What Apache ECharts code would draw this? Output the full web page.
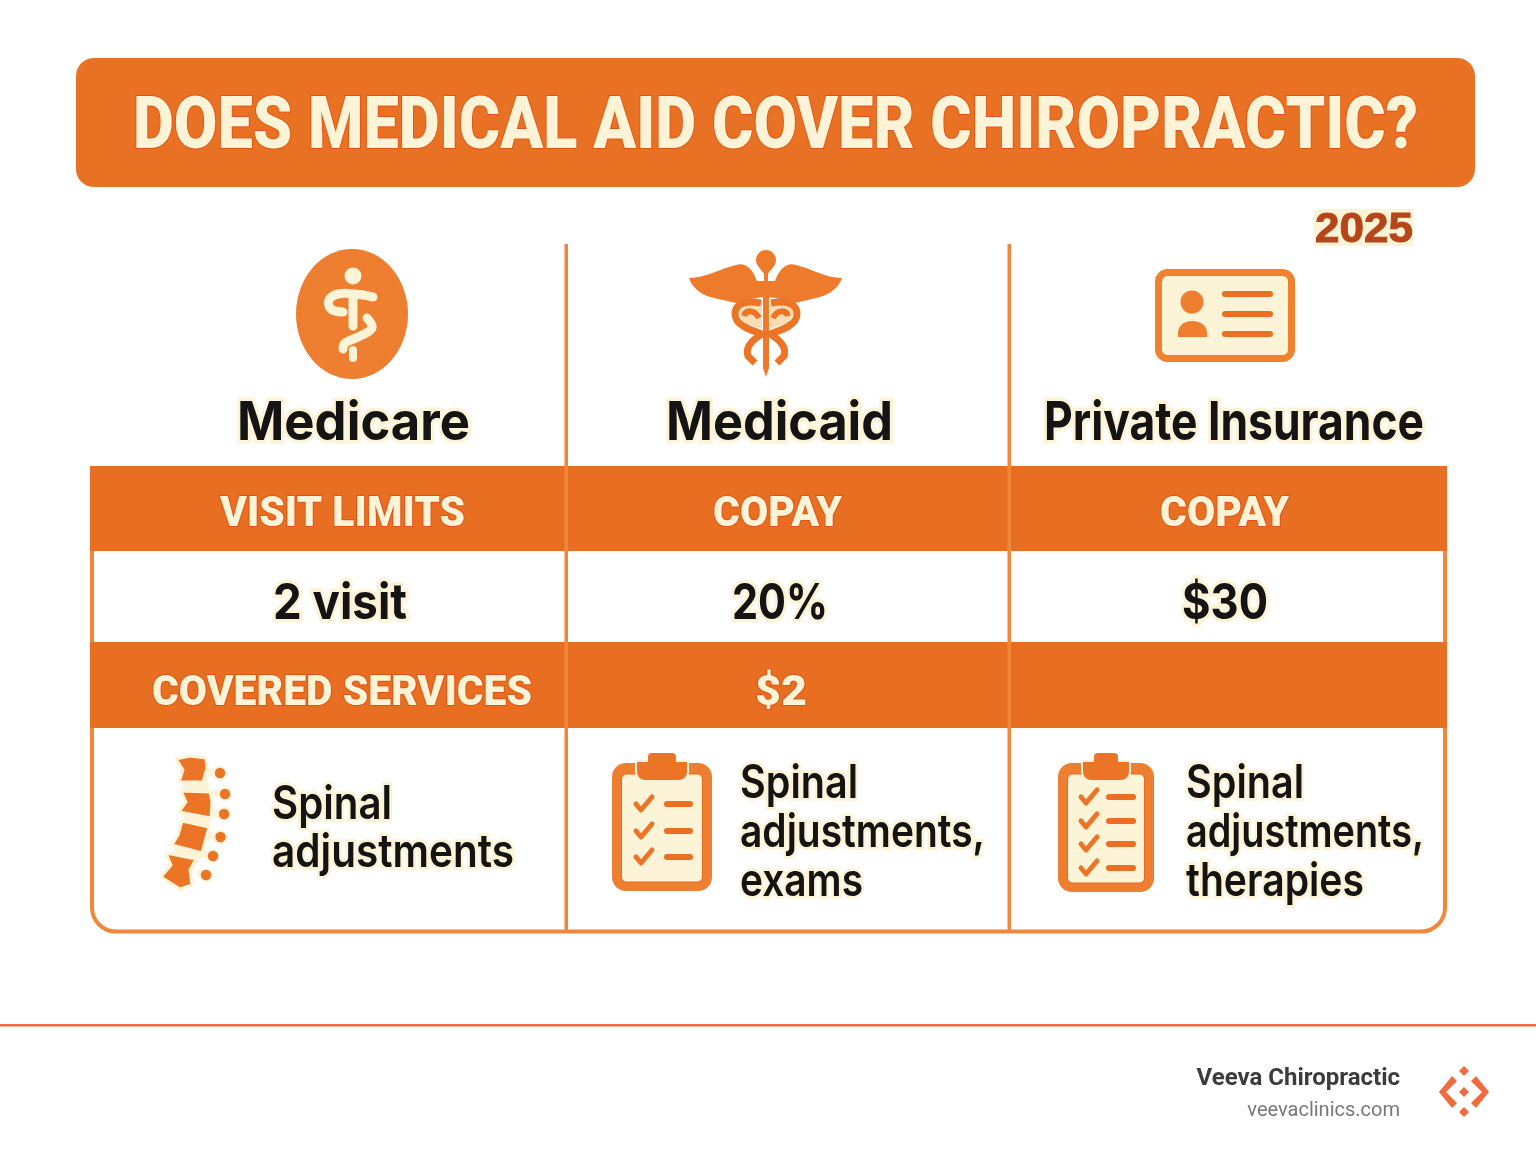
<!DOCTYPE html>
<html><head><meta charset="utf-8">
<style>html,body{margin:0;padding:0;background:#fff}#c{width:1536px;height:1154px}</style>
<script src="https://cdn.jsdelivr.net/npm/echarts@6/dist/echarts.min.js"></script>
</head><body><div id="c"></div>
<script>
// ---- content ----
const titleText = 'DOES MEDICAL AID COVER CHIROPRACTIC?';
const yearText = '2025';
const plans = ['Medicare', 'Medicaid', 'Private Insurance'];
const band1Labels = ['VISIT LIMITS', 'COPAY', 'COPAY'];
const rowValues = ['2 visit', '20%', '$30'];
const band2Labels = ['COVERED SERVICES', '$2'];
const services = [['Spinal', 'adjustments'], ['Spinal', 'adjustments,', 'exams'], ['Spinal', 'adjustments,', 'therapies']];
const brandName = 'Veeva Chiropractic';
const brandSite = 'veevaclinics.com';

// ---- layout ----
const CREAM = '#FDF3D7', ORANGE = '#E97123', LINE = '#F0873A', EDGE = '#DF5414', INK = '#141414';
const planBox = [[237, 233], [666, 227], [1044, 380]];
const band1Box = [[220, 245], [713, 129], [1160, 129]];
const rowBox = [[273, 134], [732, 96], [1182, 86]];
const band2Box = [[152, 380], [755, 52]];
const serviceX = [272, 740, 1186];
const serviceBase = [[819, 867], [798, 847, 896], [798, 847, 896]];
const serviceW = [[120, 242], [118, 245, 123], [118, 238, 178]];

const mctx = document.createElement('canvas').getContext('2d');
function T(text, x, base, width, size, weight, family, fill, halo, haloW) {
  const font = weight + ' ' + size + 'px ' + family;
  mctx.font = font;
  const sx = width ? width / mctx.measureText(text).width : 1;
  const k = family === 'Roboto' ? 0.265 : 0.3;
  return { type: 'text', x, y: base - size * k, scaleX: sx, z: 20, silent: true,
    style: { text, font, fill, textAlign: 'left', textVerticalAlign: 'middle',
      stroke: halo || 'transparent', lineWidth: halo ? haloW : 0 } };
}
let pathId = 0;
function P(d, style, z) {
  const name = 'svgShape' + (pathId++);
  echarts.graphic.registerShape(name, echarts.graphic.extendPath(d, {}));
  return { type: name, shape: {}, style, z: z || 10, silent: true };
}
function R(x, y, w, h, r, fill, stroke, lw, z) {
  return { type: 'rect', shape: { x, y, width: w, height: h, r }, style: { fill, stroke: stroke || null, lineWidth: lw || 0 }, z: z || 5, silent: true };
}
function C(cx, cy, r, fill, z) { return { type: 'circle', shape: { cx, cy, r }, style: { fill }, z: z || 12, silent: true }; }
function E(cx, cy, rx, ry, fill, z) { return { type: 'ellipse', shape: { cx, cy, rx, ry }, style: { fill }, z: z || 11, silent: true }; }
function S(d, stroke, lw, z) { return { type: 'polyline', shape: { points: d, smooth: 0.4 }, style: { stroke, lineWidth: lw, fill: null, lineCap: 'round', lineJoin: 'round' }, z: z || 12, silent: true }; }
function PG(points, fill, stroke, lw, z) { return { type: 'polygon', shape: { points }, style: { fill, stroke: stroke || null, lineWidth: lw || 0, lineJoin: 'round' }, z: z || 12, silent: true }; }

const g = [];
// title bar
g.push(R(76, 58, 1399, 129, 18, ORANGE));
g.push(T(titleText, 133, 149, 1285, 73, 900, 'Roboto', CREAM, EDGE, 2));
// year
g.push(R(1314, 209, 99, 37, 2, CREAM));
g.push(T(yearText, 1315, 243, 98, 43, 700, 'Liberation Sans', '#B5461A', '#B5461A', 1));

// table
g.push(R(92, 468, 1353, 463.5, [0, 0, 24, 24], '#fff', LINE, 4, 4));
g.push(R(90, 466, 1357, 85, 0, '#E86E22', null, 0, 6));
g.push(R(90, 642, 1357, 86, 0, '#E86E22', null, 0, 6));
g.push(R(564.5, 244, 3.5, 687, 0, LINE, null, 0, 7));
g.push(R(1007.5, 244, 3.5, 687, 0, LINE, null, 0, 7));

plans.forEach((p, i) => g.push(T(p, planBox[i][0], 440, planBox[i][1], 54, 700, 'Inter', INK, CREAM, 7)));
band1Labels.forEach((p, i) => g.push(T(p, band1Box[i][0], 527, band1Box[i][1], 42, 900, 'Roboto', CREAM, EDGE, 2)));
rowValues.forEach((p, i) => g.push(T(p, rowBox[i][0], 619, rowBox[i][1], 50, 700, 'Inter', INK, CREAM, 7)));
band2Labels.forEach((p, i) => g.push(T(p, band2Box[i][0], 706, band2Box[i][1], 42, 900, 'Roboto', CREAM, EDGE, 2)));
services.forEach((lines, i) => lines.forEach((l, j) =>
  g.push(T(l, serviceX[i], serviceBase[i][j], serviceW[i][j], 46, 600, 'Inter', INK, CREAM, 6))));

// Medicare icon
g.push(E(352, 314, 56, 65, '#EE7F30'));
g.push(C(353, 276, 8.5, CREAM));
g.push(S([[343, 312], [331, 309], [329, 300], [338, 294], [355, 294], [373, 297]], CREAM, 9));
g.push(S([[353, 296], [353, 326]], CREAM, 9));
g.push(S([[367, 318], [372, 328], [358, 337], [345, 343], [343, 349]], CREAM, 9));
g.push(S([[353, 350], [353, 358]], CREAM, 8));

// Caduceus icon
const W = '#EE7A2B';
g.push(P('M689 278 C705 278 722 268 736 265 C746 262 753 270 757 281 L775 281 C779 270 786 262 796 265 C810 268 826 278 842 278 C838 290 826 296 816 298 L795 303 C786 300 772 297 766 297 C760 297 746 300 736 303 L714 298 C704 296 693 290 689 278 Z', { fill: W }));
g.push(P('M766 250 C772 250 776 255 776 260 C776 266 770 270 768 274 L768 282 L764 282 L764 274 C762 270 756 266 756 260 C756 255 760 250 766 250 Z', { fill: W }));
g.push(P('M762 302 L762 329 L744 323 L737 312 L743 302 Z M770 302 L770 329 L788 323 L795 312 L789 302 Z', { fill: '#FBDDB5' }, 9));
g.push(P('M763 295 L769 295 L769 368 L766 377 L763 368 Z', { fill: W }));
g.push(P('M761 303 C745 300 735 304 735 314 C735 325 750 330 762 334 C752 340 745 347 748 356 L755 363', { stroke: '#EC7426', lineWidth: 7, fill: null }));
g.push(P('M771 303 C787 300 797 304 797 314 C797 325 782 330 770 334 C780 340 787 347 784 356 L777 363', { stroke: '#EC7426', lineWidth: 7, fill: null }));
g.push(P('M759 318 C755 310 746 309 744 316', { stroke: '#EC7426', lineWidth: 6, fill: null }));
g.push(P('M773 318 C777 310 786 309 788 316', { stroke: '#EC7426', lineWidth: 6, fill: null }));

// ID card icon
g.push(R(1158.5, 272.5, 133, 86, 9, CREAM, '#F0822F', 7, 10));
g.push(C(1192, 302, 11.5, '#EE7F30'));
g.push(P('M1178 337 L1178 333 C1178 325 1185 321 1192 321 C1200 321 1207 325 1207 333 L1207 337 Z', { fill: '#EE7F30' }, 12));
[294, 314, 334].forEach(y => g.push(R(1222, y - 3, 51, 6, 3, '#EC6E22', null, 0, 12)));

// clipboards
function clip(x0, w, y0, y1, rows, cx0, lx0, lx1) {
  g.push(R(x0, y0 + 10, w, y1 - y0 - 10, 14, '#EE7F30', null, 0, 10));
  g.push(R(x0 + 9.5, y0 + 21, w - 19, y1 - y0 - 30, 5, CREAM, '#E8691F', 1, 11));
  g.push(R(x0 + 24, y0 + 8, w - 48, 20, [0, 0, 9, 9], '#EC7426', CREAM, 2, 12));
  g.push(R(x0 + 36, y0, w - 72, 12, [4, 4, 0, 0], '#EC7426', null, 0, 12));
  rows.forEach(y => {
    g.push({ type: 'polyline', shape: { points: [[cx0, y], [cx0 + 5, y + 6], [cx0 + 16, y - 7]] }, style: { stroke: '#EC7426', lineWidth: 5, fill: null, lineCap: 'round', lineJoin: 'round' }, z: 13, silent: true });
    g.push(R(lx0, y - 3, lx1 - lx0, 6, 3, '#EC6E22', null, 0, 13));
  });
}
clip(612, 100, 753, 891, [804, 831, 857], 636, 664, 693);
clip(1058, 96, 753, 892, [797, 821, 844, 868], 1081, 1106, 1136);

// spine icon
g.push(S([[193, 770], [197, 800], [194, 835], [178, 872]], CREAM, 26, 9));
[[220, 773], [225, 794], [224, 814], [220.5, 837], [213, 856], [206, 875]].forEach(p => {
  g.push(S([[200, p[1] - 2], [p[0], p[1]]], CREAM, 7, 9));
  g.push(C(p[0], p[1], 7, CREAM, 10));
  g.push(C(p[0], p[1], 5.2, '#EC7426', 12));
});
const spineFill = '#EC7426';
[
  [[176, 759], [190, 756], [206, 758], [207, 768], [203, 782], [179, 782], [183, 770]],
  [[181, 791], [210, 792], [212, 802], [211, 818], [179, 812], [186, 802]],
  [[182, 821], [209, 827], [202, 853], [172, 845], [178, 835]],
  [[166, 853], [196, 859], [190, 870], [192, 885], [180, 889], [161, 877], [171, 865]]
].forEach(pts => g.push(PG(pts, spineFill, CREAM, 3, 12)));

// footer
g.push(R(0, 1024, 1536, 2.5, 0, '#F26B3F'));
g.push({ type: 'text', x: 1400, y: 1079, z: 20, silent: true, style: { text: brandName, font: '700 24px Roboto', fill: '#3C3C3C', textAlign: 'right', textVerticalAlign: 'middle' } });
g.push({ type: 'text', x: 1400, y: 1111, z: 20, silent: true, style: { text: brandSite, font: '400 20px Roboto', fill: '#787878', textAlign: 'right', textVerticalAlign: 'middle' } });
const LOGO = '#F26B3F';
g.push(PG([[1464, 1066], [1469, 1071], [1464, 1076], [1459, 1071]], LOGO));
g.push(PG([[1464, 1107], [1469, 1112], [1464, 1117], [1459, 1112]], LOGO));
g.push(PG([[1464, 1087], [1469, 1092], [1464, 1097], [1459, 1092]], LOGO));
g.push(PG([[1452, 1076], [1457, 1081], [1446, 1092], [1457, 1103], [1452, 1108], [1439, 1092]], LOGO));
g.push(PG([[1476, 1076], [1471, 1081], [1482, 1092], [1471, 1103], [1476, 1108], [1489, 1092]], LOGO));

const chart = echarts.init(document.getElementById('c'), null, { renderer: 'canvas', width: 1536, height: 1154 });
chart.setOption({ backgroundColor: '#fff', animation: false, graphic: { elements: g } });
</script></body></html>
